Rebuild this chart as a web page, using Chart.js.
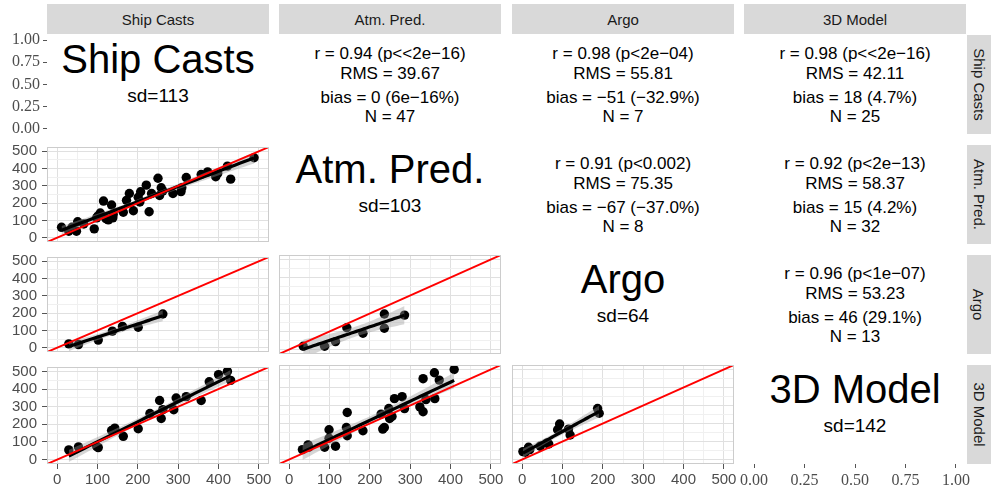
<!DOCTYPE html>
<html>
<head>
<meta charset="utf-8">
<script src="https://cdn.jsdelivr.net/npm/chart.js@4.4.1/dist/chart.umd.min.js"></script>
<style>
  html, body { margin: 0; padding: 0; background: #fff; }
  #page { position: relative; width: 991px; height: 493px; overflow: hidden; font-family: 'Liberation Sans', Arial, sans-serif; }
  .strip { position: absolute; background: #d9d9d9; color: #1a1a1a; font-size: 15px; display: flex; align-items: center; justify-content: center; white-space: nowrap; }
  .strip.right span { transform: rotate(90deg); display: block; }
  .txt { position: absolute; text-align: center; color: #000; white-space: pre; }
  canvas { position: absolute; }
</style>
</head>
<body>
<div id="page"></div>
<script>
// Variables of the pairs plot
const VARS = ['Ship Casts', 'Atm. Pred.', 'Argo', '3D Model']
const SD_LABELS = ['sd=113', 'sd=103', 'sd=64', 'sd=142']

// Tick labels
const SCATTER_TICKS = [0, 50, 100, 150, 200, 250, 300, 350, 400, 450, 500]
const UNIT_TICKS = [0, 0.25, 0.5, 0.75, 1]
const AXIS_MIN = -25
const AXIS_MAX = 525

// Upper panels: statistics text
const STATS_SHIP_ATM = ['r = 0.94 (p<<2e\u221216)', 'RMS = 39.67', 'bias = 0 (6e\u221216%)', 'N = 47']
const STATS_SHIP_ARGO = ['r = 0.98 (p<2e\u221204)', 'RMS = 55.81', 'bias = \u221251 (\u221232.9%)', 'N = 7']
const STATS_SHIP_MODEL = ['r = 0.98 (p<<2e\u221216)', 'RMS = 42.11', 'bias = 18 (4.7%)', 'N = 25']
const STATS_ATM_ARGO = ['r = 0.91 (p<0.002)', 'RMS = 75.35', 'bias = \u221267 (\u221237.0%)', 'N = 8']
const STATS_ATM_MODEL = ['r = 0.92 (p<2e\u221213)', 'RMS = 58.37', 'bias = 15 (4.2%)', 'N = 32']
const STATS_ARGO_MODEL = ['r = 0.96 (p<1e\u221207)', 'RMS = 53.23', 'bias = 46 (29.1%)', 'N = 13']

// Lower panels: x = column variable, y = row variable
const atmShip_x = [11, 29, 37, 48, 51, 66, 92, 98, 101, 107, 115, 121, 127, 135, 138, 139, 164, 172, 179, 189, 201, 205, 207, 221, 228, 234, 250, 254, 258, 262, 287, 307, 309, 320, 357, 373, 393, 398, 422, 430, 488]
const atmShip_y = [60, 37, 60, 37, 92, 79, 51, 115, 125, 143, 212, 110, 103, 189, 115, 134, 147, 216, 256, 156, 234, 207, 266, 304, 150, 256, 344, 244, 289, 271, 256, 267, 289, 348, 366, 381, 353, 372, 414, 339, 463]

const argoShip_x = [29, 53, 102, 137, 162, 201, 262]
const argoShip_y = [22, 18, 44, 96, 123, 118, 195]

const argoAtm_x = [35, 88, 115, 143, 183, 236, 236, 286]
const argoAtm_y = [18, 18, 44, 121, 90, 197, 118, 191]

const modelShip_x = [29, 53, 98, 102, 135, 143, 164, 201, 230, 254, 258, 262, 289, 295, 320, 357, 377, 400, 422, 430]
const modelShip_y = [55, 72, 74, 68, 165, 178, 132, 175, 261, 335, 233, 283, 283, 349, 357, 335, 441, 482, 500, 449]

const modelAtm_x = [33, 47, 49, 88, 99, 99, 115, 142, 144, 144, 183, 228, 232, 236, 247, 249, 255, 261, 280, 286, 324, 332, 332, 339, 360, 361, 372, 409]
const modelAtm_y = [55, 81, 68, 68, 165, 118, 74, 178, 261, 132, 160, 252, 169, 178, 283, 228, 239, 338, 349, 283, 292, 265, 449, 333, 482, 338, 441, 500]

const modelArgo_x = [2, 8, 16, 19, 45, 62, 66, 88, 93, 115, 119, 187, 191]
const modelArgo_y = [44, 40, 68, 55, 74, 92, 86, 165, 197, 169, 136, 283, 257]

// Layout
const PANEL_LEFT = [47, 279, 512, 744]
const PANEL_TOP = [35, 145, 255, 365]
const PANEL_W = 222
const PANEL_H = 99
const AXIS_LEFT = 47
const AXIS_BOTTOM = 29
const M = 12
// vertical centres of the four stats lines, from the panel top
const STAT_LINE_Y = [18, 38, 62, 81]

const SANS = "'Liberation Sans', Arial, sans-serif"
const SERIF = "'Liberation Serif', serif"
const page = document.getElementById('page')

// linear fit with confidence band, like geom_smooth(method = lm)
function tQuant(df) {
    const z = 1.96
    return z + (z ** 3 + z) / (4 * df) + (5 * z ** 5 + 16 * z ** 3 + 3 * z) / (96 * df * df)
}

function linearFit(xs, ys) {
    const n = xs.length
    const mx = xs.reduce((a, b) => a + b, 0) / n
    const my = ys.reduce((a, b) => a + b, 0) / n
    let sxx = 0, sxy = 0
    for (let i = 0; i < n; i++) {
        sxx += (xs[i] - mx) ** 2
        sxy += (xs[i] - mx) * (ys[i] - my)
    }
    const b = sxy / sxx
    const a = my - b * mx
    let sse = 0
    for (let i = 0; i < n; i++) sse += (ys[i] - a - b * xs[i]) ** 2
    const s = Math.sqrt(sse / (n - 2))
    const t = tQuant(n - 2)
    const xmin = Math.min(...xs), xmax = Math.max(...xs)
    const line = [], hi = [], lo = []
    for (let k = 0; k <= 40; k++) {
        const x = xmin + (xmax - xmin) * k / 40
        const yhat = a + b * x
        const se = s * Math.sqrt(1 / n + (x - mx) ** 2 / sxx)
        line.push({ x: x, y: yhat })
        hi.push({ x: x, y: yhat + t * se })
        lo.push({ x: x, y: yhat - t * se })
    }
    return { line, hi, lo }
}

// grey frame round the plotting area
const panelBorder = {
    id: 'panelBorder',
    afterDraw(chart, args, opts) {
        if (!opts.on) return
        const a = chart.chartArea
        const ctx = chart.ctx
        ctx.save()
        ctx.strokeStyle = '#cccccc'
        ctx.lineWidth = 1
        ctx.strokeRect(a.left + 0.5, a.top + 0.5, a.right - a.left - 1, a.bottom - a.top - 1)
        ctx.restore()
    }
}

function addCanvas(row, col, left, bottom) {
    const c = document.createElement('canvas')
    const w = PANEL_W + left + 2 * M
    const h = PANEL_H + bottom + 2 * M
    c.width = w
    c.height = h
    c.style.width = w + 'px'
    c.style.height = h + 'px'
    c.style.left = (PANEL_LEFT[col] - left - M) + 'px'
    c.style.top = (PANEL_TOP[row] - M) + 'px'
    page.appendChild(c)
    return c
}

function scaleOpts(kind, show, unit, gridOn) {
    const tickVals = unit ? UNIT_TICKS : SCATTER_TICKS
    const isMajor = v => unit || Math.round(v) % 100 === 0
    return {
        type: 'linear',
        min: unit ? -0.05 : AXIS_MIN,
        max: unit ? 1.05 : AXIS_MAX,
        afterBuildTicks: s => { s.ticks = tickVals.map(v => ({ value: v })) },
        afterFit: s => {
            if (kind === 'x') s.height = show ? AXIS_BOTTOM : 0
            else s.width = show ? AXIS_LEFT : 0
        },
        border: { display: false },
        grid: {
            display: gridOn || show,
            drawOnChartArea: gridOn,
            drawTicks: show,
            tickLength: unit ? 4 : 5,
            color: ctx => isMajor(ctx.tick.value) ? '#e0e0e0' : '#f0f0f0',
            tickColor: ctx => isMajor(ctx.tick.value) ? '#555555' : 'rgba(0,0,0,0)',
            lineWidth: 1
        },
        ticks: {
            display: show,
            autoSkip: false,
            maxRotation: 0,
            minRotation: 0,
            padding: unit ? 3 : (kind === 'x' ? 2 : 5),
            color: '#4d4d4d',
            font: unit ? { family: SERIF, size: 16 } : { family: SANS, size: 15 },
            callback: v => unit ? v.toFixed(2) : (Math.round(v) % 100 === 0 ? String(v) : '')
        }
    }
}

function baseOptions(xShow, yShow, unit, gridOn) {
    return {
        responsive: false,
        animation: false,
        events: [],
        layout: { padding: M },
        plugins: { legend: { display: false }, tooltip: { enabled: false }, panelBorder: { on: gridOn } },
        scales: {
            x: scaleOpts('x', xShow, unit, gridOn),
            y: scaleOpts('y', yShow, unit, gridOn)
        }
    }
}

function scatterPanel(row, col, xs, ys) {
    const left = col === 0 ? AXIS_LEFT : 0
    const bottom = row === 3 ? AXIS_BOTTOM : 0
    const cv = addCanvas(row, col, left, bottom)
    const fit = linearFit(xs, ys)
    const pts = xs.map((x, i) => ({ x: x, y: ys[i] }))
    new Chart(cv, {
        type: 'scatter',
        data: {
            datasets: [
                { type: 'line', data: [{ x: AXIS_MIN, y: AXIS_MIN }, { x: AXIS_MAX, y: AXIS_MAX }], borderColor: '#ff0000', borderWidth: 2, pointRadius: 0, fill: false, order: 0, clip: 0 },
                { type: 'line', data: fit.line, borderColor: '#000000', borderWidth: 3.2, pointRadius: 0, fill: false, order: 1, clip: 0 },
                { type: 'line', data: fit.hi, borderWidth: 0, borderColor: 'rgba(0,0,0,0)', pointRadius: 0, fill: '+1', backgroundColor: 'rgba(153,153,153,0.4)', order: 2, clip: 0 },
                { type: 'line', data: fit.lo, borderWidth: 0, borderColor: 'rgba(0,0,0,0)', pointRadius: 0, fill: false, order: 3, clip: 0 },
                { data: pts, pointRadius: 4.7, backgroundColor: '#000000', borderWidth: 0, order: 4 }
            ]
        },
        options: baseOptions(bottom > 0, left > 0, false, true),
        plugins: [panelBorder]
    })
}

function axisOnlyPanel(row, col, xShow, yShow) {
    const cv = addCanvas(row, col, yShow ? AXIS_LEFT : 0, xShow ? AXIS_BOTTOM : 0)
    new Chart(cv, {
        type: 'scatter',
        data: { datasets: [{ data: [] }] },
        options: baseOptions(xShow, yShow, true, false),
        plugins: [panelBorder]
    })
}

// one centred line of text, cy = centre of the capitals
function addText(str, cx, cy, size) {
    const d = document.createElement('div')
    d.className = 'txt'
    d.textContent = str
    d.style.fontSize = size + 'px'
    d.style.lineHeight = size + 'px'
    d.style.left = (cx - 150) + 'px'
    d.style.width = '300px'
    d.style.top = (cy - 0.49 * size) + 'px'
    page.appendChild(d)
}

// strips
VARS.forEach((v, i) => {
    const s = document.createElement('div')
    s.className = 'strip'
    s.textContent = v
    s.style.left = PANEL_LEFT[i] + 'px'
    s.style.width = PANEL_W + 'px'
    s.style.top = '4px'
    s.style.height = '30px'
    page.appendChild(s)

    const r = document.createElement('div')
    r.className = 'strip right'
    r.innerHTML = '<span></span>'
    r.firstChild.textContent = v
    r.style.left = '967px'
    r.style.width = '24px'
    r.style.top = PANEL_TOP[i] + 'px'
    r.style.height = PANEL_H + 'px'
    page.appendChild(r)
})

// diagonal labels
VARS.forEach((v, i) => {
    const cx = PANEL_LEFT[i] + PANEL_W / 2
    addText(v, cx, PANEL_TOP[i] + 23.5, 40)
    addText(SD_LABELS[i], cx, PANEL_TOP[i] + 60, 19)
})

// upper panels
const upper = [
    [0, 1, STATS_SHIP_ATM], [0, 2, STATS_SHIP_ARGO], [0, 3, STATS_SHIP_MODEL],
    [1, 2, STATS_ATM_ARGO], [1, 3, STATS_ATM_MODEL], [2, 3, STATS_ARGO_MODEL]
]
upper.forEach(([r, c, lines]) => {
    lines.forEach((ln, k) => {
        addText(ln, PANEL_LEFT[c] + PANEL_W / 2, PANEL_TOP[r] + STAT_LINE_Y[k], 17)
    })
})

// axes on the diagonal corners
axisOnlyPanel(0, 0, false, true)
axisOnlyPanel(3, 3, true, false)

// lower panels
scatterPanel(1, 0, atmShip_x, atmShip_y)
scatterPanel(2, 0, argoShip_x, argoShip_y)
scatterPanel(2, 1, argoAtm_x, argoAtm_y)
scatterPanel(3, 0, modelShip_x, modelShip_y)
scatterPanel(3, 1, modelAtm_x, modelAtm_y)
scatterPanel(3, 2, modelArgo_x, modelArgo_y)
</script>
</body>
</html>
